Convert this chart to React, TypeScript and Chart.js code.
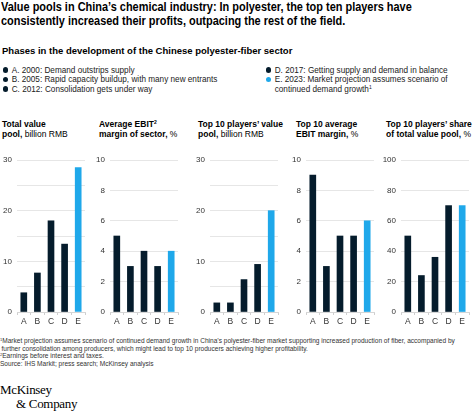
import React, { useEffect, useRef } from "react";
import { Chart, registerables } from "chart.js";

Chart.register(...registerables);

const categories = ["A", "B", "C", "D", "E"];
const totalValuePool = [3.8, 7.7, 18.0, 13.4, 28.5];
const avgEbitMargin = [5, 3, 4, 3, 4];
const top10ValuePool = [1.8, 1.8, 6.4, 9.4, 20];
const top10EbitMargin = [9, 3, 5, 5, 6];
const top10Share = [50, 24, 36, 70, 70];

const NAVY = "#051c2c";
const BLUE = "#1fa8ea";
const barColors = [NAVY, NAVY, NAVY, NAVY, BLUE];

const legendLeft = [
  "A. 2000: Demand outstrips supply",
  "B. 2005: Rapid capacity buildup, with many new entrants",
  "C. 2012: Consolidation gets under way",
];
const legendRight = [
  "D. 2017: Getting supply and demand in balance",
  "E. 2023: Market projection assumes scenario of",
];

const FONT = "'Liberation Sans', Arial, Helvetica, sans-serif";

type PanelProps = {
  values: number[];
  max: number;
  step: number;
  labelEvery: number;
  chartLeft: number;
};

function BarPanel({ values, max, step, labelEvery, chartLeft }: PanelProps) {
  const ref = useRef<HTMLCanvasElement | null>(null);
  const axisW = 20;
  const width = 92;
  const top = 150;
  const height = 178;
  useEffect(() => {
    if (!ref.current) return;
    const chart = new Chart(ref.current, {
      type: "bar",
      data: {
        labels: categories,
        datasets: [
          {
            data: values,
            backgroundColor: barColors,
            barThickness: 6,
          },
        ],
      },
      options: {
        animation: false,
        responsive: false,
        maintainAspectRatio: false,
        layout: { padding: { top: 10, right: width - axisW - 68, left: 0, bottom: 0 } },
        plugins: { legend: { display: false }, tooltip: { enabled: false } },
        scales: {
          x: {
            afterFit: (s: any) => {
              s.height = 16;
            },
            grid: {
              display: true,
              drawOnChartArea: false,
              drawTicks: true,
              tickLength: 3,
              offset: true,
              color: "#cfcfcf",
            },
            border: { display: true, color: "#d6d6d6" },
            ticks: {
              padding: 2,
              color: "#333",
              font: { family: FONT, size: 8.5 },
              maxRotation: 0,
            },
          },
          y: {
            min: 0,
            max: max,
            afterFit: (s: any) => {
              s.width = axisW;
            },
            grid: { color: "#e6e6e6", drawTicks: false, lineWidth: 1 },
            border: { display: false },
            ticks: {
              stepSize: step,
              padding: 5,
              color: "#333",
              font: { family: FONT, size: 8 },
              callback: (v: any) => (Number(v) % labelEvery === 0 ? String(v) : ""),
            },
          },
        },
      },
    });
    return () => chart.destroy();
  }, []);
  return (
    <canvas
      ref={ref}
      width={width}
      height={height}
      style={{
        position: "absolute",
        left: chartLeft - axisW,
        top,
        width,
        height,
      }}
    />
  );
}

const Dot = ({ color }: { color: string }) => (
  <span
    style={{
      display: "inline-block",
      width: 5.5,
      height: 5.5,
      borderRadius: "50%",
      background: color,
      marginRight: 3.5,
      verticalAlign: "0px",
    }}
  />
);

export default function App() {
  const panelTitle: React.CSSProperties = {
    position: "absolute",
    top: 119.4,
    fontSize: 8.5,
    lineHeight: "10px",
    color: "#000",
    whiteSpace: "nowrap",
  };
  return (
    <div
      style={{
        position: "absolute",
        left: 0,
        top: 0,
        width: 474,
        height: 413,
        background: "#fff",
        overflow: "hidden",
        fontFamily: FONT,
        color: "#000",
      }}
    >
      <div
        style={{
          position: "absolute",
          left: 1,
          top: 0,
          fontSize: 13,
          lineHeight: "14.3px",
          fontWeight: "bold",
          whiteSpace: "nowrap",
          transform: "scaleX(0.842)",
          transformOrigin: "left top",
        }}
      >
        Value pools in China’s chemical industry: In polyester, the top ten players have
        <br />
        consistently increased their profits, outpacing the rest of the field.
      </div>
      <div
        style={{
          position: "absolute",
          left: 2,
          top: 45.2,
          fontSize: 9.5,
          lineHeight: "11px",
          fontWeight: "bold",
          whiteSpace: "nowrap",
        }}
      >
        Phases in the development of the Chinese polyester-fiber sector
      </div>
      <div
        style={{
          position: "absolute",
          left: 2.7,
          top: 65.6,
          fontSize: 8.2,
          lineHeight: "9.5px",
          color: "#222",
          whiteSpace: "nowrap",
        }}
      >
        {legendLeft.map((t, i) => (
          <div key={i}>
            <Dot color={NAVY} />
            {t}
          </div>
        ))}
      </div>
      <div
        style={{
          position: "absolute",
          left: 265.7,
          top: 65.6,
          fontSize: 8.2,
          lineHeight: "9.5px",
          color: "#222",
          whiteSpace: "nowrap",
        }}
      >
        <div>
          <Dot color={NAVY} />
          {legendRight[0]}
        </div>
        <div>
          <Dot color={BLUE} />
          {legendRight[1]}
        </div>
        <div style={{ paddingLeft: 9 }}>
          continued demand growth<sup style={{ fontSize: 5, verticalAlign: "3px", lineHeight: 0 }}>1</sup>
        </div>
      </div>

      <div style={{ ...panelTitle, left: 2 }}>
        <b>Total value</b>
        <br />
        <b>pool,</b> billion RMB
      </div>
      <div style={{ ...panelTitle, left: 99 }}>
        <b>
          Average EBIT<sup style={{ fontSize: 5, verticalAlign: "3.5px", lineHeight: 0 }}>2</sup>
        </b>
        <br />
        <b>margin of sector,</b> %
      </div>
      <div style={{ ...panelTitle, left: 198 }}>
        <b>Top 10 players’ value</b>
        <br />
        <b>pool,</b> billion RMB
      </div>
      <div style={{ ...panelTitle, left: 296 }}>
        <b>Top 10 average</b>
        <br />
        <b>EBIT margin,</b> %
      </div>
      <div style={{ ...panelTitle, left: 386 }}>
        <b>Top 10 players’ share</b>
        <br />
        <b>of total value pool,</b> %
      </div>

      <BarPanel values={totalValuePool} max={30} step={5} labelEvery={10} chartLeft={17} />
      <BarPanel values={avgEbitMargin} max={10} step={2} labelEvery={2} chartLeft={110} />
      <BarPanel values={top10ValuePool} max={30} step={5} labelEvery={10} chartLeft={210} />
      <BarPanel values={top10EbitMargin} max={10} step={2} labelEvery={2} chartLeft={306} />
      <BarPanel values={top10Share} max={100} step={20} labelEvery={20} chartLeft={401} />

      <div
        style={{
          position: "absolute",
          left: 0,
          top: 337,
          fontSize: 6.55,
          lineHeight: "7.6px",
          color: "#333",
          whiteSpace: "nowrap",
        }}
      >
        <div>
          <sup style={{ fontSize: 4, verticalAlign: "2px", lineHeight: 0 }}>1</sup>Market projection assumes
          scenario of continued demand growth in China’s polyester-fiber market supporting increased
          production of fiber, accompanied by
        </div>
        <div style={{ paddingLeft: 1.5 }}>
          further consolidation among producers, which might lead to top 10 producers achieving higher
          profitability.
        </div>
        <div>
          <sup style={{ fontSize: 4, verticalAlign: "2px", lineHeight: 0 }}>2</sup>Earnings before interest and
          taxes.
        </div>
        <div>Source: IHS Markit; press search; McKinsey analysis</div>
      </div>

      <div
        style={{
          position: "absolute",
          left: 0,
          top: 383,
          fontFamily: "'Liberation Serif', 'Times New Roman', serif",
          fontSize: 13,
          lineHeight: "14px",
          letterSpacing: "-0.3px",
          color: "#000",
          whiteSpace: "nowrap",
        }}
      >
        <div>McKinsey</div>
        <div style={{ paddingLeft: 16 }}>&amp; Company</div>
      </div>
    </div>
  );
}
